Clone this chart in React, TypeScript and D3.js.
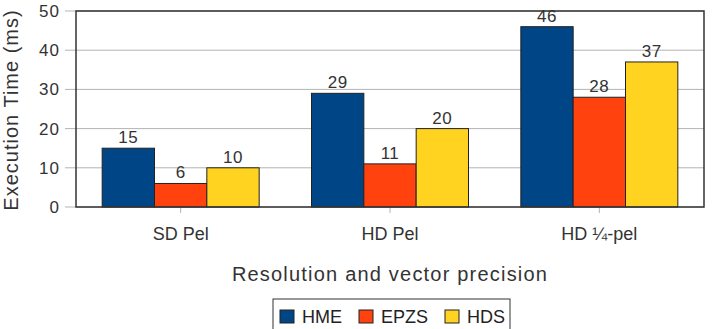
import React from "react";
import * as d3 from "d3";

// Execution time per encoder, grouped by resolution / vector precision
const categories = ["SD Pel", "HD Pel", "HD ¼-pel"];
const series = ["HME", "EPZS", "HDS"];
const hme = [15, 29, 46];
const epzs = [6, 11, 28];
const hds = [10, 20, 37];
const yTicks = [0, 10, 20, 30, 40, 50];

const colors = ["#004586", "#ff420e", "#ffd320"];
const values = [hme, epzs, hds];

const width = 713;
const height = 329;
const plot = { left: 76, right: 704, top: 11, bottom: 207 };
const font = "'Liberation Sans', Arial, sans-serif";

export default function App() {
  const x0 = d3
    .scaleBand<string>()
    .domain(categories)
    .range([plot.left, plot.right])
    .paddingInner(0.25)
    .paddingOuter(0.125);

  const x1 = d3
    .scaleBand<string>()
    .domain(series)
    .range([0, x0.bandwidth()]);

  const y = d3.scaleLinear().domain([0, 50]).range([plot.bottom, plot.top]);

  // centre of each category slot (tick position)
  const slot = (c: string) => (x0(c) ?? 0) + x0.bandwidth() / 2;

  const legendItems = [
    { name: series[0], x: 280, tx: 302 },
    { name: series[1], x: 359, tx: 381 },
    { name: series[2], x: 445, tx: 467 },
  ];

  return (
    <svg
      width={width}
      height={height}
      style={{ position: "absolute", left: 0, top: 0, background: "#fff", fontFamily: font }}
    >
      {/* grid lines and y ticks */}
      {yTicks.map((t) => (
        <g key={t}>
          <line x1={65} x2={plot.right} y1={y(t)} y2={y(t)} stroke="#b3b3b3" strokeWidth={1} />
          <text
            x={60}
            y={y(t) + 6}
            textAnchor="end"
            fontSize={17}
            letterSpacing={1}
            fill="#333"
          >
            {t}
          </text>
        </g>
      ))}

      {/* x ticks */}
      {categories.map((c) => (
        <g key={c}>
          <line x1={slot(c)} x2={slot(c)} y1={plot.bottom} y2={plot.bottom + 6} stroke="#b3b3b3" />
          <text x={slot(c)} y={240} textAnchor="middle" fontSize={18} fill="#333">
            {c}
          </text>
        </g>
      ))}

      {/* bars */}
      {categories.map((c, ci) => (
        <g key={c} transform={`translate(${x0(c)},0)`}>
          {series.map((s, si) => {
            const v = values[si][ci];
            const bx = x1(s) ?? 0;
            return (
              <g key={s}>
                <rect
                  x={bx}
                  y={y(v)}
                  width={x1.bandwidth()}
                  height={y(0) - y(v)}
                  fill={colors[si]}
                  stroke="#222"
                  strokeWidth={1}
                />
                <text
                  x={bx + x1.bandwidth() / 2}
                  y={y(v) - 5}
                  textAnchor="middle"
                  fontSize={17}
                  letterSpacing={0.5}
                  fill="#333"
                >
                  {v}
                </text>
              </g>
            );
          })}
        </g>
      ))}

      {/* plot frame */}
      <rect
        x={plot.left}
        y={plot.top}
        width={plot.right - plot.left}
        height={plot.bottom - plot.top}
        fill="none"
        stroke="#333"
        strokeWidth={1.5}
      />

      {/* axis titles */}
      <text
        transform={`translate(18,${(plot.top + plot.bottom) / 2 + 1}) rotate(-90)`}
        textAnchor="middle"
        fontSize={20}
        letterSpacing={1}
        fill="#333"
      >
        Execution Time (ms)
      </text>
      <text
        x={(plot.left + plot.right) / 2}
        y={281}
        textAnchor="middle"
        fontSize={20}
        letterSpacing={1.2}
        fill="#333"
      >
        Resolution and vector precision
      </text>

      {/* legend */}
      <rect x={273} y={299} width={237} height={40} fill="#fff" stroke="#333" strokeWidth={1} />
      {legendItems.map((it, i) => (
        <g key={it.name}>
          <rect x={it.x} y={310} width={14} height={13} fill={colors[i]} stroke="#222" strokeWidth={1} />
          <text x={it.tx} y={323} fontSize={18} fill="#222">
            {it.name}
          </text>
        </g>
      ))}
    </svg>
  );
}
